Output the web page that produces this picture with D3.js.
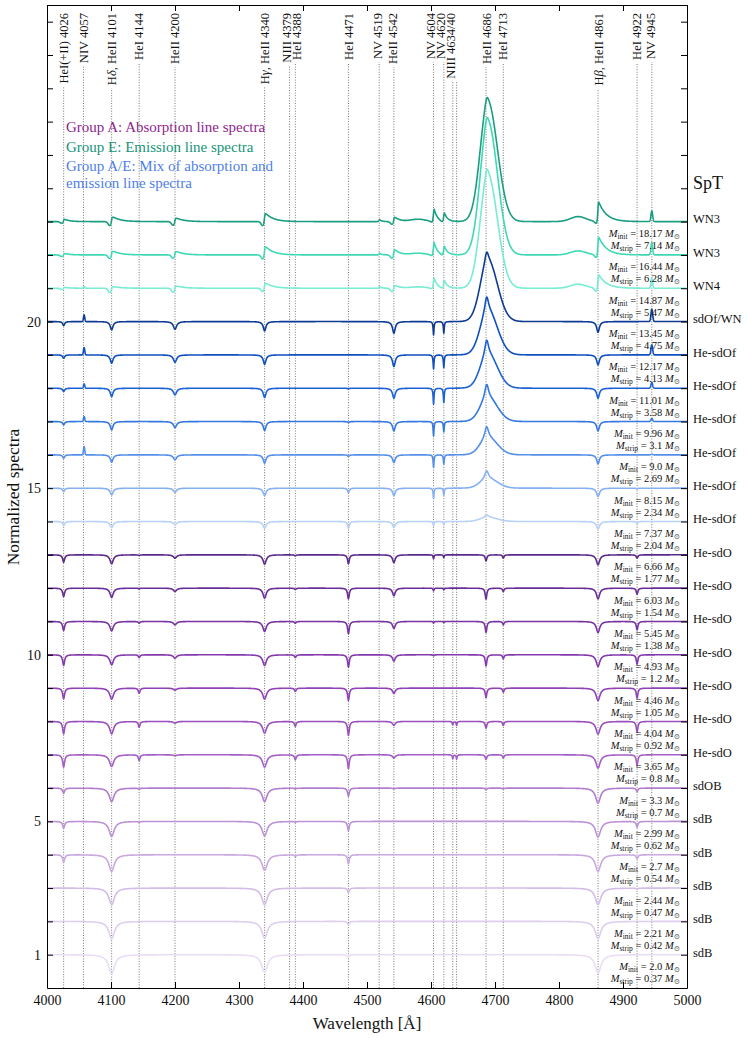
<!DOCTYPE html>
<html>
<head>
<meta charset="utf-8">
<title>Stripped star spectra</title>
<script src="https://cdn.jsdelivr.net/npm/d3@7"></script>
<style>
  body { margin: 0; background: #fff; }
  text { font-family: "Liberation Serif", "DejaVu Serif", serif; fill: #111; }
  .axis text { font-size: 14px; }
  .axis path, .axis line { stroke: #000; }
</style>
</head>
<body>
<script>
// ---- data (index 0 = top spectrum, 22 = bottom spectrum) ----
const sptLabels = ["WN3","WN3","WN4","sdOf/WN","He-sdOf","He-sdOf","He-sdOf","He-sdOf","He-sdOf","He-sdOf",
  "He-sdO","He-sdO","He-sdO","He-sdO","He-sdO","He-sdO","He-sdO","sdOB","sdB","sdB","sdB","sdB","sdB"];
const mInit = ["18.17","16.44","14.87","13.45","12.17","11.01","9.96","9.0","8.15","7.37","6.66","6.03",
  "5.45","4.93","4.46","4.04","3.65","3.3","2.99","2.7","2.44","2.21","2.0"];
const mStrip = ["7.14","6.28","5.47","4.75","4.13","3.58","3.1","2.69","2.34","2.04","1.77","1.54",
  "1.38","1.2","1.05","0.92","0.8","0.7","0.62","0.54","0.47","0.42","0.37"];
const specColors = ["#1b9e80","#3fd8b4","#78ebd3","#0d3b95","#0f4fbf","#1c62d6","#3479e2","#558fe9","#85b0f2","#b8d1f7",
  "#5b2a8a","#692e97","#7834a4","#8439ae","#9042b7","#9a4fbf","#a45fc6","#b27ccf","#bd92d8","#c9a8e0","#d4bce8","#dfcdef","#e9def5"];

const lineWaves = [4026,4057,4101,4144,4200,4340,4379,4388,4471,4519,4542,4604,4620,4634,4640,4686,4713,4861,4922,4945];
const lineLabelIdx = [0,1,2,3,4,5,6,7,8,9,10,11,12,13,13,14,15,16,17,18];
const lineLabels = ["HeI(+II) 4026","NIV 4057","Hδ, HeII 4101","HeI 4144","HeII 4200","Hγ, HeII 4340","NIII 4379","HeI 4388",
  "HeI 4471","NV 4519","HeII 4542","NV 4604","NV 4620","NIII 4634/40","HeII 4686","HeI 4713","Hβ, HeII 4861","HeI 4922","NV 4945"];
const labelWaves = [4026,4057,4101,4144,4200,4340,4375,4391,4471,4517,4541,4600.5,4616,4631.5,4687,4713,4862,4922,4944];

const groupTexts = ["Group A: Absorption line spectra","Group E: Emission line spectra",
  "Group A/E: Mix of absorption and","emission line spectra"];
const groupColors = ["#8e1f8e","#15957a","#4d7fe8","#4d7fe8"];

// absorption depths
const hDelta   = [0,0,0,.25,.25,.25,.25,.22,.2,.18,.27,.28,.28,.3,.33,.37,.35,.4,.45,.5,.5,.52,.58];
const hGamma   = [0,0,0,.28,.28,.28,.27,.25,.22,.2,.28,.3,.3,.32,.33,.35,.37,.4,.43,.47,.5,.5,.52];
const hBeta    = [0,0,0,.32,.3,.3,.28,.27,.25,.22,.3,.32,.33,.35,.37,.38,.4,.45,.47,.5,.5,.52,.55];
const hWidth   = [1,1,1,2.5,2.5,2.5,2.5,2.5,2.8,3,3,3,3.2,3.4,3.6,3.8,4,4.5,4.8,5,5.2,5.4,5.6];
const heI4026  = [0,0,0,.12,.1,.1,.1,.1,.1,.12,.22,.25,.27,.32,.32,.37,.37,.15,.2,.22,0,0,0];
const heI4144  = [0,0,0,0,0,0,0,0,0,0,.02,.02,.05,.08,.15,.17,.17,.03,.02,0,0,0,0];
const heII4200 = [0,0,0,.23,.22,.2,.18,.15,.12,.1,.1,.1,.1,.1,.06,.05,.03,0,0,0,0,0,0];
const heI4388  = [0,0,0,0,0,0,0,0,0,0,.03,.04,.05,.08,.1,.14,.15,.02,.02,.05,0,0,0];
const heI4471  = [0,0,0,0,0,.02,.03,.05,.13,.2,.27,.32,.37,.37,.37,.42,.42,.24,.28,.27,.14,.1,.07];
const heII4542 = [0,0,0,.35,.35,.3,.28,.23,.22,.18,.23,.23,.21,.19,.16,.12,.1,.02,0,0,0,0,0];
const nV4604   = [0,0,0,.4,.42,.48,.43,.38,.31,.13,.12,.08,.05,.03,0,0,0,0,0,0,0,0,0];
const nV4620   = [0,0,0,.35,.38,.43,.31,.28,.21,.1,.08,.05,.03,0,0,0,0,0,0,0,0,0,0];
const nIII4634 = [0,0,0,0,0,0,0,0,0,0,0,0,0,0,0,.1,.12,0,0,0,0,0,0];
const nIII4640 = [0,0,0,0,0,0,0,0,0,0,0,0,0,0,0,.12,.13,0,0,0,0,0,0];
const heII4686Abs = [0,0,0,0,0,0,0,0,0,0,.18,.33,.33,.33,.28,.2,.14,.05,0,0,0,0,0];
const heI4713  = [0,0,0,0,0,0,0,0,0,0,.1,.1,.1,.12,.12,.12,.1,.03,0,0,0,0,0];
const heI4922  = [0,0,0,0,0,0,0,0,.02,.05,.1,.18,.25,.28,.3,.32,.32,.1,.17,.12,.03,0,0];

// emission heights
const heII4686Broad  = [3.55,3.95,3.35,1.8,1.3,1.0,0.7,0.5,0.28,0.12,0,0,0,0,0,0,0,0,0,0,0,0,0];
const heII4686Narrow = [0.2,0.2,0.25,0.3,0.45,0.45,0.42,0.35,0.24,0.08,0,0,0,0,0,0,0,0,0,0,0,0,0];
const nIV4057 = [0,0,.05,.2,.22,.13,.15,.25,0,0,0,0,0,0,0,0,0,0,0,0,0,0,0];
const nV4945  = [.32,.37,.3,.37,.3,.17,.09,.02,0,0,0,0,0,0,0,0,0,0,0,0,0,0,0];

// P-Cygni profiles of the three WN spectra
const wnPCygWaves = [4026,4101,4200,4340,4519,4542,4604,4620,4861];
const wnTau = [8,12,12,12,3,8,5,5,12];
const wnEmission = [
  [.08,.16,.12,.27,.06,.15,.37,.25,.6],
  [.05,.13,.12,.27,.05,.18,.37,.25,.55],
  [.03,.06,.08,.17,.05,.1,.3,.22,.42]];
const wnAbsorption = [
  [.05,.12,.11,.12,0,.08,.03,.03,.06],
  [.05,.11,.1,.12,0,.1,.03,.03,.08],
  [.04,.13,.12,.1,0,.1,.02,.02,.1]];
const wnBumpWaves = [4580, 4830];
const wnBumps = [[.07,.15],[.05,.12],[.04,.12]];

// ---- layout ----
const width = 747, height = 1038;
const x = d3.scaleLinear().domain([4000, 5000]).range([47, 687]);
const y = d3.scaleLinear().domain([0, 29.5]).range([988, 5]);
const nSpec = sptLabels.length;

const svg = d3.select("body").append("svg")
  .attr("width", width).attr("height", height);

svg.append("defs").append("clipPath").attr("id", "plotclip")
  .append("rect").attr("x", x(4000)).attr("y", y(29.5))
  .attr("width", x(5000) - x(4000)).attr("height", y(0) - y(29.5));

// ---- profiles ----
const lor = (w, c, g) => 1 / (1 + ((w - c) / g) ** 2);
const gau = (w, c, s) => Math.exp(-0.5 * ((w - c) / s) ** 2);
const gau2 = (w, c, sb, sr) => gau(w, c, w < c ? sb : sr);
const pcygEm = (w, c, tau) => w >= c ? Math.exp(-(w - c) / tau) : gau(w, c, 1.2);

const hLines = [[4101, hDelta], [4340, hGamma], [4861, hBeta]];
const absLines = [
  [4026, heI4026, 1.8], [4144, heI4144, 1.5], [4200, heII4200, 3], [4388, heI4388, 1.5],
  [4471, heI4471, 1.6], [4542, heII4542, 2.5], [4604, nV4604, 0.8], [4620, nV4620, 0.8],
  [4634, nIII4634, 0.8], [4640, nIII4640, 0.8], [4686, heII4686Abs, 1.5], [4713, heI4713, 1.3],
  [4922, heI4922, 1.5]];

function flux(i, w) {
  let f = 1;
  hLines.forEach(([c, d]) => { if (d[i]) f -= d[i] * lor(w, c, hWidth[i]); });
  absLines.forEach(([c, d, g]) => { if (d[i]) f -= d[i] * lor(w, c, g); });
  f += heII4686Broad[i] * gau2(w, 4689, 12, 15) + heII4686Narrow[i] * lor(w, 4687, 3.5);
  f += nIV4057[i] * gau(w, 4058, 1) + nV4945[i] * gau(w, 4945, 1.3);
  if (i < wnEmission.length) {
    wnPCygWaves.forEach((c, k) => {
      f += wnEmission[i][k] * pcygEm(w, c + 1, wnTau[k]) - wnAbsorption[i][k] * gau(w, c - 3, 2.5);
    });
    wnBumpWaves.forEach((c, k) => { f += wnBumps[i][k] * gau(w, c, 12); });
  }
  return f;
}

const grid = d3.range(4000, 5000.01, 0.25);

// ---- line identification labels and dotted lines ----
const labelG = svg.append("g");
const labelText = labelG.selectAll("text").data(lineLabels).join("text")
  .attr("transform", (d, i) => `translate(${x(labelWaves[i])},13) rotate(-90)`)
  .attr("text-anchor", "end")
  .attr("dy", "0.33em")
  .style("font-size", "12.5px")
  .each(function(d) {
    const t = d3.select(this);
    const m = d.match(/^H([δγβ])(.*)$/);
    if (m) {
      t.append("tspan").text("H");
      t.append("tspan").style("font-style", "italic").text(m[1]);
      t.append("tspan").text(m[2]);
    } else t.text(d);
  });

const labelLen = [];
labelText.each(function(d, i) { labelLen[i] = this.getComputedTextLength(); });

svg.append("g").selectAll("line").data(lineWaves).join("line")
  .attr("x1", d => x(d)).attr("x2", d => x(d))
  .attr("y1", y(0))
  .attr("y2", (d, i) => 13 + labelLen[lineLabelIdx[i]] + 3)
  .attr("stroke", "#555").attr("stroke-width", 0.8)
  .attr("stroke-dasharray", "1,1.6");

// ---- spectra ----
const line = d3.line().x(d => x(d[0])).y(d => y(d[1]));
svg.append("g").attr("clip-path", "url(#plotclip)")
  .selectAll("path").data(d3.range(nSpec)).join("path")
  .attr("d", i => line(grid.map(w => [w, nSpec - i + flux(i, w) - 1])))
  .attr("fill", "none")
  .attr("stroke", i => specColors[i])
  .attr("stroke-width", 1.6)
  .attr("stroke-linejoin", "round");

// ---- mass annotations ----
const massG = svg.append("g").selectAll("g").data(d3.range(nSpec)).join("g");
function massText(sel, sub, val, dyBase) {
  const t = sel.append("text")
    .attr("x", 680).attr("y", i => y(nSpec - i) + dyBase)
    .attr("text-anchor", "end")
    .style("font-size", "10.5px");
  t.append("tspan").style("font-style", "italic").text("M");
  t.append("tspan").attr("dy", 2).style("font-size", "7.5px").text(sub);
  t.append("tspan").attr("dy", -2).text(i => ` = ${val[i]} `);
  t.append("tspan").style("font-style", "italic").text("M");
  t.append("tspan").attr("dy", 2).style("font-size", "7.5px").style("fill", "#555").text("⊙");
}
massText(massG, "init", mInit, 15.5);
massText(massG, "strip", mStrip, 27.5);

// ---- spectral type labels ----
svg.append("g").selectAll("text").data(sptLabels).join("text")
  .attr("x", 693).attr("y", (d, i) => y(nSpec - i) - 1)
  .attr("dominant-baseline", "middle")
  .style("font-size", "12.5px")
  .text(d => d);

svg.append("text").attr("x", 693).attr("y", 189)
  .style("font-size", "18px").text("SpT");

// ---- group legend ----
svg.append("g").selectAll("text").data(groupTexts).join("text")
  .attr("x", 66).attr("y", (d, i) => [132, 152, 171, 188][i])
  .style("font-size", "15px")
  .style("fill", (d, i) => groupColors[i])
  .text(d => d);

// ---- axes ----
const yTicks = d3.range(1, 30);
const yLabeled = [1, 5, 10, 15, 20];
svg.append("g").attr("class", "axis").attr("transform", `translate(${x(4000)},0)`)
  .call(d3.axisLeft(y).tickValues(yTicks).tickSize(-6).tickSizeOuter(0).tickPadding(6)
    .tickFormat(d => yLabeled.includes(d) ? d : ""));
svg.append("g").attr("class", "axis").attr("transform", `translate(${x(5000)},0)`)
  .call(d3.axisRight(y).tickValues(yTicks).tickSize(-6).tickSizeOuter(0).tickFormat(""));
const xTicks = d3.range(4000, 5001, 100);
svg.append("g").attr("class", "axis").attr("transform", `translate(0,${y(0)})`)
  .call(d3.axisBottom(x).tickValues(xTicks).tickSize(-6).tickSizeOuter(0).tickPadding(7)
    .tickFormat(d3.format("d")));
svg.append("g").attr("class", "axis").attr("transform", `translate(0,${y(29.5)})`)
  .call(d3.axisTop(x).tickValues(xTicks).tickSize(-6).tickSizeOuter(0).tickFormat(""));
svg.selectAll(".axis text").style("font-family", "'Liberation Serif', 'DejaVu Serif', serif").style("fill", "#111");

svg.append("text").attr("x", 367).attr("y", 1029)
  .attr("text-anchor", "middle").style("font-size", "17px")
  .text("Wavelength [Å]");
svg.append("text").attr("transform", "translate(19,497) rotate(-90)")
  .attr("text-anchor", "middle").style("font-size", "17.5px")
  .text("Normalized spectra");
</script>
</body>
</html>
